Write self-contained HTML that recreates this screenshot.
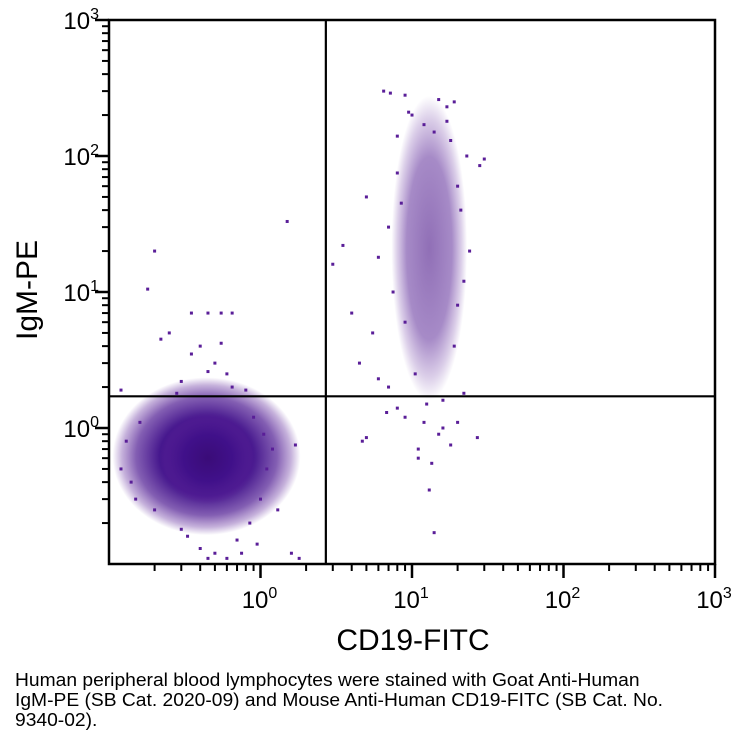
<!DOCTYPE html>
<html><head><meta charset="utf-8"><style>
body{margin:0;background:#fff;width:742px;height:743px;overflow:hidden;font-family:"Liberation Sans",sans-serif}
.cap{position:absolute;left:15px;top:670px;font-size:18.5px;line-height:20px;color:#000;width:740px;white-space:nowrap;transform:scaleX(1.04);transform-origin:0 0}
</style></head><body>
<svg id="chart" width="742" height="665" style="position:absolute;left:0;top:0"></svg>
<div class="cap">Human peripheral blood lymphocytes were stained with Goat Anti-Human<br>IgM-PE (SB Cat. 2020-09) and Mouse Anti-Human CD19-FITC (SB Cat. No.<br>9340-02).</div>
<script>
const xDecades=[-1,0,1,2,3];
const yDecades=[-1,0,1,2,3];
const xTickLabels=["","0","1","2","3"];
const yTickLabels=["","0","1","2","3"];
const gateX=[2.7];
const gateY=[1.71];
// dense regions: centers in data units, spreads in decades, peak opacity
const clusterCx=[0.44,0.45,13];
const clusterCy=[0.62,0.6,21];
const clusterRx=[0.62,0.32,0.25];
const clusterRy=[0.58,0.34,1.12];
const clusterOp=[1,1,0.72];
const ptX=[0.2,0.18,0.25,0.35,0.45,0.55,0.65,0.4,0.5,0.6,0.3,0.12,1.5,0.65,0.8,0.28,0.45,0.35,0.22,0.55,
0.13,0.12,0.15,0.2,0.3,0.4,0.5,0.6,0.7,0.85,1.0,1.1,1.2,1.05,0.9,1.3,1.6,1.8,0.45,1.7,0.95,0.14,0.16,0.75,0.33,
6.5,7.2,9,15,19,17,10,12,14,8,30,28,23,8.5,5,7,3.5,6,3,24,22,20,9,4,5.5,4.5,7,6,22,8,9,12,15,5,4.7,18,27,13,14,11,12.5,16,10.5,
18,20,17,9.5,8,21,19,7.5,6.8,16,20,11,13.5];
const ptY=[20,10.5,5,7,7,7,7,4,3,2.5,2.2,1.9,33,2,1.9,1.8,2.6,3.5,4.5,4.2,
0.8,0.5,0.3,0.25,0.18,0.13,0.12,0.11,0.15,0.2,0.3,0.5,0.7,0.9,1.2,0.25,0.12,0.11,0.11,0.75,0.14,0.4,1.1,0.12,0.16,
300,290,280,260,250,230,200,170,150,140,95,85,100,45,50,30,22,18,16,20,12,8,6,7,5,3,2,2.3,1.8,1.4,1.2,1.1,0.9,0.85,0.8,0.75,0.85,0.35,0.17,0.6,1.5,1.6,2.5,
130,60,180,210,75,40,4,10,1.3,1.0,1.1,0.7,0.55];

const L=109,R=715,T=20,B=564;
const X=v=>L+(Math.log10(v)+1)/4*(R-L);
const Y=v=>B-(Math.log10(v)+1)/4*(B-T);
const XD=d=>L+(d+1)/4*(R-L), YD=d=>B-(d+1)/4*(B-T);
const svg=document.getElementById('chart'),NS='http://www.w3.org/2000/svg';
function mk(t,a,p){const e=document.createElementNS(NS,t);for(const k in a)e.setAttribute(k,a[k]);(p||svg).appendChild(e);return e;}
const defs=mk('defs',{});
const clip=mk('clipPath',{id:'pc'},defs);mk('rect',{x:L,y:T,width:R-L,height:B-T},clip);
const stopsA=[[0,'#3a0c78',1],[0.5,'#40108a',0.97],[0.75,'#4e1a92',0.7],[0.9,'#5a2098',0.35],[1,'#5a2098',0]];
const stopsB=[[0,'#4a1488',0.85],[0.6,'#4f1890',0.7],[0.85,'#5a2098',0.3],[1,'#5a2098',0]];
[stopsA,stopsA,stopsB].forEach((s,i)=>{const gr=mk('radialGradient',{id:'cg'+i},defs);
 s.forEach(st=>mk('stop',{offset:st[0],'stop-color':st[1],'stop-opacity':st[2]},gr));});
const g=mk('g',{'clip-path':'url(#pc)'});


for(let i=0;i<clusterCx.length;i++){
 const cx=X(clusterCx[i]),cy=Y(clusterCy[i]);
 const rx=clusterRx[i]/4*(R-L),ry=clusterRy[i]/4*(B-T);
 const e=mk('ellipse',{cx,cy,rx,ry,fill:'url(#cg'+i+')',opacity:clusterOp[i]},g);
 
 
}
for(let i=0;i<ptX.length;i++){
 const r=mk('rect',{x:X(ptX[i])-1.5,y:Y(ptY[i])-1.5,width:3,height:3,fill:'#5a1e98'},g);
 
 
}
const gl=mk('line',{x1:X(gateX[0]),x2:X(gateX[0]),y1:T,y2:B,stroke:'#000','stroke-width':2.2});


const gh=mk('line',{x1:L,x2:R,y1:Y(gateY[0]),y2:Y(gateY[0]),stroke:'#000','stroke-width':2.2});


const fr=mk('rect',{x:L,y:T,width:R-L,height:B-T,fill:'none',stroke:'#000','stroke-width':2.5});


for(let d=0;d<xDecades.length;d++){
 const dv=xDecades[d];
 if(d>0){const t=mk('line',{x1:XD(dv),x2:XD(dv),y1:B,y2:B+14,stroke:'#000','stroke-width':2.5});
 
 const tx=mk('text',{x:XD(dv)-1,y:B+44,'font-size':24,'text-anchor':'middle'});tx.innerHTML='10<tspan dy="-10" font-size="16">'+xTickLabels[d]+'</tspan>';
 
 const ty=mk('text',{x:L-10,y:YD(dv)+9,'font-size':24,'text-anchor':'end'});ty.innerHTML='10<tspan dy="-10" font-size="16">'+yTickLabels[d]+'</tspan>';
 
 const t2=mk('line',{x1:L-14,x2:L,y1:YD(dv),y2:YD(dv),stroke:'#000','stroke-width':2.5});
 }
 if(d<xDecades.length-1)for(let m=2;m<10;m++){
  const xv=XD(dv+Math.log10(m)),yv=YD(dv+Math.log10(m));
  const a=mk('line',{x1:xv,x2:xv,y1:B,y2:B+7,stroke:'#000','stroke-width':2});
  
  const b=mk('line',{x1:L-7,x2:L,y1:yv,y2:yv,stroke:'#000','stroke-width':2});
  
 }
}
const xt=mk('text',{x:413,y:650,'font-size':30,'text-anchor':'middle'});xt.textContent='CD19-FITC';

const yt=mk('text',{x:0,y:0,'font-size':30,'text-anchor':'middle',transform:'translate(37,290) rotate(-90)'});yt.textContent='IgM-PE';

</script>
</body></html>
